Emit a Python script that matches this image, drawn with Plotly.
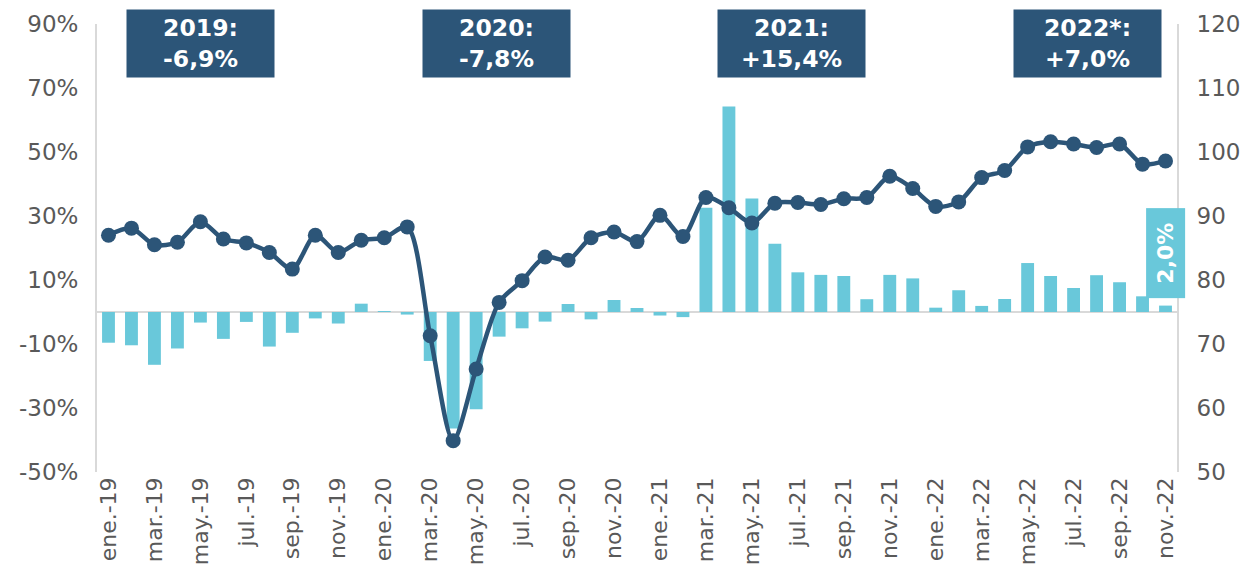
import plotly.graph_objects as go

months = ["ene.", "feb.", "mar.", "abr.", "may.", "jun.", "jul.", "ago.", "sep.", "oct.", "nov.", "dic."]
years = ["19", "20", "21", "22"]
categories = [f"{m}-{y}" for y in years for m in months][:47]

# Year-on-year variation (%), left axis
variation_pct = [
    -9.6, -10.4, -16.5, -11.4, -3.3, -8.4, -3.1, -10.8, -6.5, -2.0, -3.6, 2.6,
    0.3, -0.8, -15.3, -36.4, -30.4, -7.7, -5.1, -3.0, 2.5, -2.3, 3.75, 1.25,
    -1.1, -1.6, 32.6, 64.2, 35.5, 21.3, 12.4, 11.6, 11.25, 4.0, 11.6, 10.5,
    1.35, 6.8, 1.9, 4.06, 15.3, 11.25, 7.5, 11.5, 9.3, 4.9, 2.0,
]

# Index (right axis)
index_values = [
    87.0, 88.1, 85.5, 85.9, 89.1, 86.4, 85.8, 84.3, 81.7, 87.0, 84.3, 86.2,
    86.6, 88.3, 71.3, 54.9, 66.1, 76.5, 79.9, 83.6, 83.1, 86.6, 87.5, 86.0,
    90.1, 86.8, 92.9, 91.3, 88.9, 92.0, 92.1, 91.8, 92.7, 92.9, 96.2, 94.3,
    91.5, 92.2, 96.0, 97.1, 100.8, 101.6, 101.25, 100.7, 101.25, 98.1, 98.6,
]

left_tickvals = [90, 70, 50, 30, 10, -10, -30, -50]
left_ticktext = ["90%", "70%", "50%", "30%", "10%", "-10%", "-30%", "-50%"]
right_tickvals = [50, 60, 70, 80, 90, 100, 110, 120]

year_labels = ["2019:<br>-6,9%", "2020:<br>-7,8%", "2021:<br>+15,4%", "2022*:<br>+7,0%"]
year_label_x = [0.0958, 0.370, 0.6435, 0.917]
last_label = "2,0%"

BAR = "#69C8DA"
NAVY = "#2C5578"
GRAY = "#595959"
AXIS = "#D9D9D9"
FONT = "DejaVu Sans, Verdana, sans-serif"

fig = go.Figure()
fig.add_trace(go.Bar(
    x=categories, y=variation_pct, marker=dict(color=BAR, line=dict(width=0)),
    yaxis="y", hoverinfo="skip", showlegend=False,
))
fig.add_trace(go.Scatter(
    x=categories, y=index_values, yaxis="y2", mode="lines+markers",
    line=dict(color=NAVY, width=4.5, shape="spline", smoothing=0.8),
    marker=dict(color=NAVY, size=15),
    hoverinfo="skip", showlegend=False,
))

annotations = []
for txt, xp in zip(year_labels, year_label_x):
    annotations.append(dict(
        text=f"<b>{txt}</b>", xref="paper", yref="paper", x=xp, y=0.9565,
        xanchor="center", yanchor="middle", showarrow=False,
        bgcolor=NAVY, width=147, height=67, borderpad=0,
        font=dict(family=FONT, size=23.5, color="white"),
    ))
annotations.append(dict(
    text=f"<b>{last_label}</b>", xref="paper", yref="paper", x=0.989, y=0.4877,
    xanchor="center", yanchor="middle", showarrow=False, textangle=-90,
    bgcolor=BAR, width=89, height=38, borderpad=0,
    font=dict(family=FONT, size=22, color="white"),
))

# page body adds an 8px offset; margins compensate so the plot area sits at 97..1177 x 24..472
fig.update_layout(
    width=1250, height=588,
    margin=dict(l=89, r=81, t=16, b=124, autoexpand=False),
    paper_bgcolor="white", plot_bgcolor="white",
    bargap=0.44,
    font=dict(family=FONT, size=22, color=GRAY),
    xaxis=dict(
        type="category", range=[-0.5, 46.5], automargin=False,
        tickmode="array", tickvals=categories[::2], ticktext=categories[::2],
        tickangle=-90, showgrid=False, showline=False, ticks="",
        tickfont=dict(family=FONT, size=22, color=GRAY),
    ),
    yaxis=dict(
        range=[-50, 90], tickmode="array", tickvals=left_tickvals, ticktext=left_ticktext,
        showgrid=False, zeroline=True, zerolinecolor=AXIS, zerolinewidth=2,
        showline=True, linecolor=AXIS, linewidth=2, ticks="", automargin=False,
        ticklabelstandoff=12,
        tickfont=dict(family=FONT, size=23, color=GRAY),
    ),
    yaxis2=dict(
        range=[50, 120], tickmode="array", tickvals=right_tickvals,
        overlaying="y", side="right", showgrid=False, zeroline=False, automargin=False,
        showline=True, linecolor=AXIS, linewidth=2, ticks="", ticklabelstandoff=13,
        tickfont=dict(family=FONT, size=23, color=GRAY),
    ),
    annotations=annotations,
)

fig.write_html("out.html")
